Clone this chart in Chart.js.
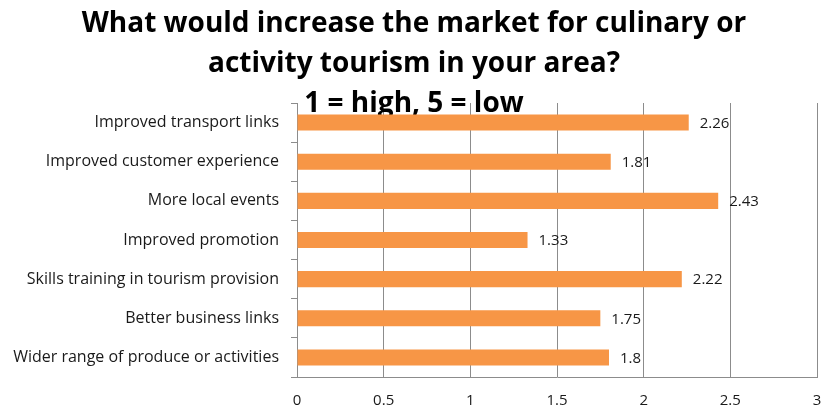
<!DOCTYPE html>
<html>
<head>
<meta charset="utf-8">
<script src="https://cdn.jsdelivr.net/npm/chart.js@4"></script>
<style>
html,body{margin:0;padding:0;background:#fff;}
#wrap{width:821px;height:412px;}
</style>
</head>
<body>
<div id="wrap"><canvas id="c" width="821" height="412"></canvas></div>
<script>
const titleLines = ["What would increase the market for culinary or", "activity tourism in your area?", "1 = high, 5 = low"];
const categories = ["Improved transport links", "Improved customer experience", "More local events", "Improved promotion", "Skills training in tourism provision", "Better business links", "Wider range of produce or activities"];
const values = [2.26, 1.81, 2.43, 1.33, 2.22, 1.75, 1.8];
const xTicks = [0, 0.5, 1, 1.5, 2, 2.5, 3];

const TITLE_FONT = "'Open Sans', Lato, sans-serif";
const FONT = "'Open Sans', Lato, sans-serif";

const valueLabels = {
  id: 'valueLabels',
  afterDatasetsDraw(chart) {
    const ctx = chart.ctx;
    const meta = chart.getDatasetMeta(0);
    ctx.save();
    ctx.font = "15px " + FONT;
    ctx.fillStyle = "#1a1a1a";
    ctx.textBaseline = "middle";
    ctx.textAlign = "left";
    meta.data.forEach((bar, i) => {
      ctx.fillText(String(chart.data.datasets[0].data[i]), bar.x + 11, bar.y + 1);
    });
    ctx.restore();
  }
};

new Chart(document.getElementById('c'), {
  type: 'bar',
  data: {
    labels: categories,
    datasets: [{
      data: values,
      backgroundColor: '#F79646',
      borderWidth: 0,
      barPercentage: 0.41,
      categoryPercentage: 1.0
    }]
  },
  options: {
    indexAxis: 'y',
    responsive: false,
    animation: false,
    devicePixelRatio: 1,
    layout: { padding: { left: 7, right: 0, top: 0, bottom: 0 } },
    plugins: {
      legend: { display: false },
      tooltip: { enabled: false },
      title: {
        display: true,
        text: titleLines,
        color: '#000',
        font: { family: TITLE_FONT, size: 28, weight: 'bold', lineHeight: '40px' },
        padding: { top: 4, bottom: -21 }
      }
    },
    scales: {
      x: {
        min: 0, max: 3,
        afterBuildTicks(scale) { scale.ticks = xTicks.map(v => ({ value: v })); },
        afterFit(scale) { scale.height = 35; scale.paddingLeft = 0; scale.paddingRight = 4; },
        grid: { color: '#8c8c8c', lineWidth: 1, drawTicks: false },
        border: { color: '#8c8c8c' },
        ticks: { color: '#1a1a1a', font: { family: FONT, size: 15 }, padding: 15,
                 callback: (v) => String(v) }
      },
      y: {
        afterFit(scale) { scale.width = 290; scale.paddingTop = 0; scale.paddingBottom = 0; },
        grid: { drawOnChartArea: false, drawTicks: true, tickLength: 6, color: '#8c8c8c', offset: true },
        border: { color: '#8c8c8c' },
        ticks: { color: '#1a1a1a', font: { family: FONT, size: 16 }, padding: 12 }
      }
    }
  },
  plugins: [valueLabels]
});
</script>
</body>
</html>
